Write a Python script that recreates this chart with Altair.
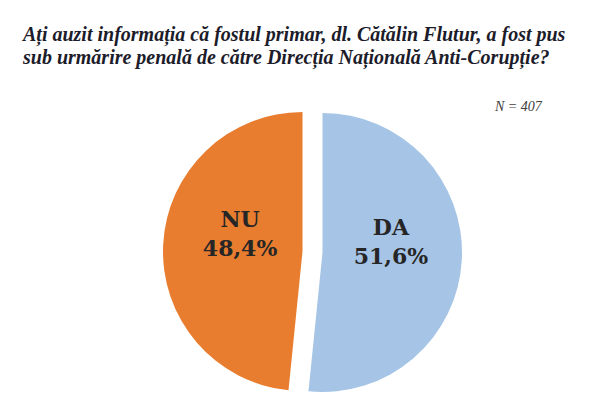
import altair as alt
import pandas as pd

# ---- data ----
categories = ["DA", "NU"]
values = [51.6, 48.4]
labels = ["DA\n51,6%", "NU\n48,4%"]
colors = ["#A5C4E6", "#E97D2F"]
order = [0, 1]

title_lines = [
    "Ați auzit informația că fostul primar, dl. Cătălin Flutur, a fost pus",
    "sub urmărire penală de către Direcția Națională Anti-Corupție?",
]
note = "N = 407"

df = pd.DataFrame({"cat": categories, "value": values, "label": labels, "order": order})

CX, CY, R = 304.5, 244, 139.5
theta_scale = alt.Scale(domain=[0, 100])
color_scale = alt.Scale(domain=categories, range=colors)

base = (
    alt.Chart(df)
    .transform_window(cum="sum(value)", sort=[alt.SortField("order")], frame=[None, 0])
    .transform_calculate(start="datum.cum - datum.value", mid="datum.cum - datum.value / 2")
)


def slice_layers(cat, dx, dy, r_label, label_dy):
    b = base.transform_filter(alt.datum.cat == cat)
    arc = b.mark_arc(radius=R, xOffset=dx, yOffset=dy).encode(
        theta=alt.Theta("start:Q", scale=theta_scale),
        theta2="cum:Q",
        color=alt.Color("cat:N", scale=color_scale, legend=None),
        x=alt.value(CX),
        y=alt.value(CY),
    )
    txt = b.mark_text(
        radius=r_label,
        xOffset=dx,
        yOffset=dy + label_dy,
        lineBreak="\n",
        lineHeight=29,
        font="DejaVu Serif",
        fontWeight="bold",
        fontSize=22,
        color="#262626",
        align="center",
        baseline="middle",
    ).encode(
        theta=alt.Theta("mid:Q", scale=theta_scale),
        text="label:N",
        x=alt.value(CX),
        y=alt.value(CY),
    )
    return [arc, txt]


layers = []
layers += slice_layers("DA", 10, 0.5, 68.5, -27.5)
layers += slice_layers("NU", -10, -0.5, 62.5, -28.5)

title = alt.Chart(pd.DataFrame({"t": ["\n".join(title_lines)]})).mark_text(
    lineBreak="\n",
    lineHeight=23,
    font="Liberation Serif",
    fontStyle="italic",
    fontWeight="bold",
    fontSize=20,
    color="#1c1c2a",
    align="left",
    baseline="alphabetic",
).encode(text="t:N", x=alt.value(15), y=alt.value(33))

note_layer = alt.Chart(pd.DataFrame({"t": [note]})).mark_text(
    font="Liberation Serif",
    fontStyle="italic",
    fontSize=14,
    color="#404040",
    align="left",
    baseline="alphabetic",
).encode(text="t:N", x=alt.value(487), y=alt.value(103))

chart = (
    alt.layer(*layers, title, note_layer)
    .properties(width=584, height=390, autosize=alt.AutoSizeParams(type="none"), padding=0, background="white")
    .configure_view(stroke=None)
)

chart.save("out.html", embed_options={"renderer": "svg", "actions": False})
